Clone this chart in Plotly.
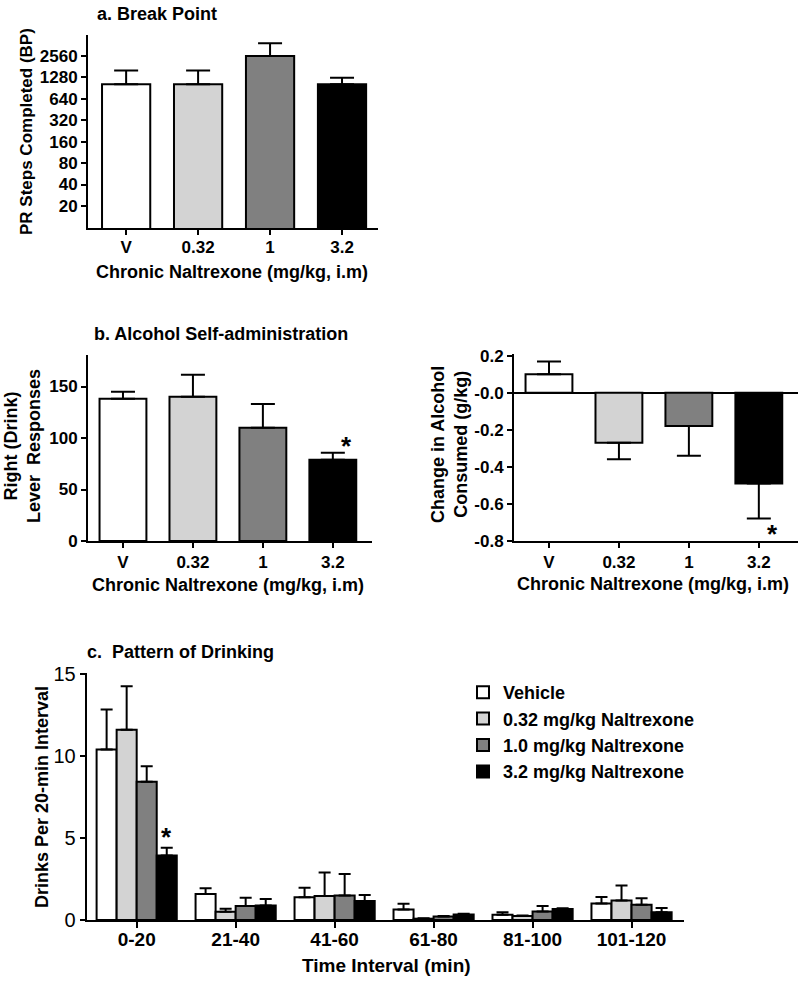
import math
import plotly.graph_objects as go

W, H = 800, 981


def px(x):
    return x / W


def py(y):
    return 1 - y / H


FONT = "Liberation Sans, Arial, sans-serif"

# ---------------- data ----------------
doses = ["V", "0.32", "1", "3.2"]
dose_colors = ["#ffffff", "#d3d3d3", "#808080", "#000000"]

# a. Break point (PR steps completed)
bp_mean = [1024, 1024, 2560, 1024]
bp_err = [576, 576, 1300, 246]
bp_ticks = [20, 40, 80, 160, 320, 640, 1280, 2560]

# b. Alcohol self-administration (right lever responses)
sa_mean = [138, 140, 110, 79]
sa_err = [7, 21.5, 23, 6.7]

# b. Change in alcohol consumed (g/kg)
chg_mean = [0.10, -0.27, -0.18, -0.49]
chg_err = [0.07, 0.09, 0.16, 0.19]
chg_ticks = [0.2, 0.0, -0.2, -0.4, -0.6, -0.8]
chg_ticktext = ["0.2", "-0.0", "-0.2", "-0.4", "-0.6", "-0.8"]

# c. Pattern of drinking
intervals = ["0-20", "21-40", "41-60", "61-80", "81-100", "101-120"]
series_names = ["Vehicle", "0.32 mg/kg Naltrexone", "1.0 mg/kg Naltrexone", "3.2 mg/kg Naltrexone"]
drinks_vehicle = [10.4, 1.59, 1.38, 0.64, 0.32, 1.00]
drinks_032 = [11.6, 0.51, 1.46, 0.08, 0.25, 1.19]
drinks_10 = [8.43, 0.85, 1.50, 0.21, 0.52, 0.93]
drinks_32 = [3.94, 0.89, 1.16, 0.33, 0.67, 0.48]
err_vehicle = [2.44, 0.34, 0.59, 0.35, 0.16, 0.40]
err_032 = [2.65, 0.18, 1.43, 0.02, 0.03, 0.92]
err_10 = [0.94, 0.51, 1.30, 0.04, 0.33, 0.39]
err_32 = [0.47, 0.39, 0.36, 0.05, 0.04, 0.25]

# significance markers
sig_sa = ("3.2", 96.4)
sig_chg = ("3.2", -0.742)
sig_drink = (0.303, 5.32)

# ---------------- figure ----------------
fig = go.Figure()

line = dict(color="black", width=2)

# panel a
fig.add_trace(go.Bar(
    x=doses, y=bp_mean, width=0.67,
    marker=dict(color=dose_colors, line=line),
    error_y=dict(type="data", array=bp_err, arrayminus=[0] * 4, symmetric=False,
                 color="black", thickness=2, width=12),
    xaxis="x", yaxis="y", showlegend=False,
))

# panel b left
fig.add_trace(go.Bar(
    x=doses, y=sa_mean, width=0.67,
    marker=dict(color=dose_colors, line=line),
    error_y=dict(type="data", array=sa_err, arrayminus=[0] * 4, symmetric=False,
                 color="black", thickness=2, width=12),
    xaxis="x2", yaxis="y2", showlegend=False,
))

# panel b right
up = [e if m >= 0 else 0 for m, e in zip(chg_mean, chg_err)]
down = [e if m < 0 else 0 for m, e in zip(chg_mean, chg_err)]
fig.add_trace(go.Bar(
    x=doses, y=chg_mean, width=0.67,
    marker=dict(color=dose_colors, line=line),
    error_y=dict(type="data", array=up, arrayminus=down, symmetric=False,
                 color="black", thickness=2, width=12),
    xaxis="x3", yaxis="y3", showlegend=False,
))

# panel c
for name, vals, errs, col in zip(series_names,
                                 [drinks_vehicle, drinks_032, drinks_10, drinks_32],
                                 [err_vehicle, err_032, err_10, err_32],
                                 dose_colors):
    fig.add_trace(go.Bar(
        x=intervals, y=vals, name=name,
        marker=dict(color=col, line=line),
        error_y=dict(type="data", array=errs, arrayminus=[0] * 6, symmetric=False,
                     color="black", thickness=2, width=6),
        xaxis="x4", yaxis="y4",
    ))

bold17 = dict(family=FONT, size=17, color="black", weight="bold")
bold18 = dict(family=FONT, size=18, color="black", weight="bold")
bold19 = dict(family=FONT, size=19, color="black", weight="bold")

axis_common = dict(showline=True, linecolor="black", linewidth=2, showgrid=False,
                   zeroline=False, ticks="outside", ticklen=5, tickwidth=2,
                   tickcolor="black", fixedrange=True, automargin=False)

fig.update_layout(
    width=W, height=H,
    margin=dict(l=0, r=0, t=0, b=0, pad=0, autoexpand=False),
    paper_bgcolor="white", plot_bgcolor="white",
    barmode="group", bargap=0.19, bargroupgap=0,
    font=dict(family=FONT, color="black"),
    xaxis=dict(axis_common, domain=[px(88), px(378)], anchor="y",
               range=[-0.53, 3.5], tickfont=bold17, ticklabelstandoff=-2),
    yaxis=dict(axis_common, domain=[py(228), py(35)], anchor="x", type="log",
               range=[math.log10(9.8), math.log10(5060)],
               tickvals=bp_ticks, ticktext=[str(v) for v in bp_ticks], tickfont=bold17),
    xaxis2=dict(axis_common, domain=[px(88), px(372)], anchor="y2",
                range=[-0.5, 3.56], tickfont=bold17),
    yaxis2=dict(axis_common, domain=[py(541), py(355)], anchor="x2",
                range=[0, 180.6], tickvals=[0, 50, 100, 150], tickfont=bold17),
    xaxis3=dict(axis_common, domain=[px(514), px(798)], anchor="y3",
                range=[-0.5, 3.56], tickfont=bold17),
    yaxis3=dict(axis_common, domain=[py(540.7), py(354)], anchor="x3",
                range=[-0.8, 0.21], tickvals=chg_ticks, ticktext=chg_ticktext,
                zeroline=True, zerolinecolor="black", zerolinewidth=2, tickfont=bold17),
    xaxis4=dict(axis_common, domain=[px(86.7), px(684)], anchor="y4",
                range=[-0.505, 5.53], ticklen=6, tickfont=bold19,
                ticklabelstandoff=-5),
    yaxis4=dict(axis_common, domain=[py(920), py(673)], anchor="x4",
                range=[0, 15.06], tickvals=[0, 5, 10, 15],
                tickfont=dict(family=FONT, size=20, color="black")),
    legend=dict(x=px(463), y=py(674), xanchor="left", yanchor="top",
                font=dict(family=FONT, size=18, color="black", weight="bold"),
                bgcolor="rgba(0,0,0,0)", tracegroupgap=0, itemwidth=30),
)

ann = []


def txt(text, x, y, font, angle=0, xanchor="center", yanchor="middle"):
    ann.append(dict(text=text, x=px(x), y=py(y), xref="paper", yref="paper",
                    showarrow=False, font=font, textangle=angle,
                    xanchor=xanchor, yanchor=yanchor))


# panel titles
txt("a. Break Point", 95, 14, bold18, xanchor="left")
txt("b. Alcohol Self-administration", 92, 334, bold18, xanchor="left")
txt("c.\u00a0\u00a0Pattern of Drinking", 85, 652, bold18, xanchor="left")

# axis titles
txt("PR Steps Completed (BP)", 27, 132, bold17, angle=-90)
txt("Chronic Naltrexone (mg/kg, i.m)", 232, 272, bold18)
txt("Right (Drink)<br>Lever\u00a0\u00a0Responses", 23, 446, bold18, angle=-90)
txt("Chronic Naltrexone (mg/kg, i.m)", 228, 585, bold18)
txt("Change in Alcohol<br>Consumed (g/kg)", 450, 445, bold18, angle=-90)
txt("Chronic Naltrexone (mg/kg, i.m)", 653, 584, bold18)
txt("Drinks Per 20-min Interval", 42, 797, bold18, angle=-90)
txt("Time Interval (min)", 386, 965, bold19)

star_font = dict(family=FONT, size=26, color="black", weight="bold")
ann.append(dict(text="*", x=sig_sa[0], y=sig_sa[1], xref="x2", yref="y2",
                showarrow=False, font=star_font, yshift=-4))
ann.append(dict(text="*", x=sig_chg[0], y=sig_chg[1], xref="x3", yref="y3",
                showarrow=False, font=star_font, yshift=-4))
ann.append(dict(text="*", x=sig_drink[0], y=sig_drink[1], xref="x4", yref="y4",
                showarrow=False, font=star_font, yshift=-4))

fig.update_layout(annotations=ann)

fig.write_html(
    "out.html",
    config={"displayModeBar": False},
    post_script="document.body.style.margin='0';document.body.style.padding='0';"
                "document.documentElement.style.overflow='hidden';",
)
